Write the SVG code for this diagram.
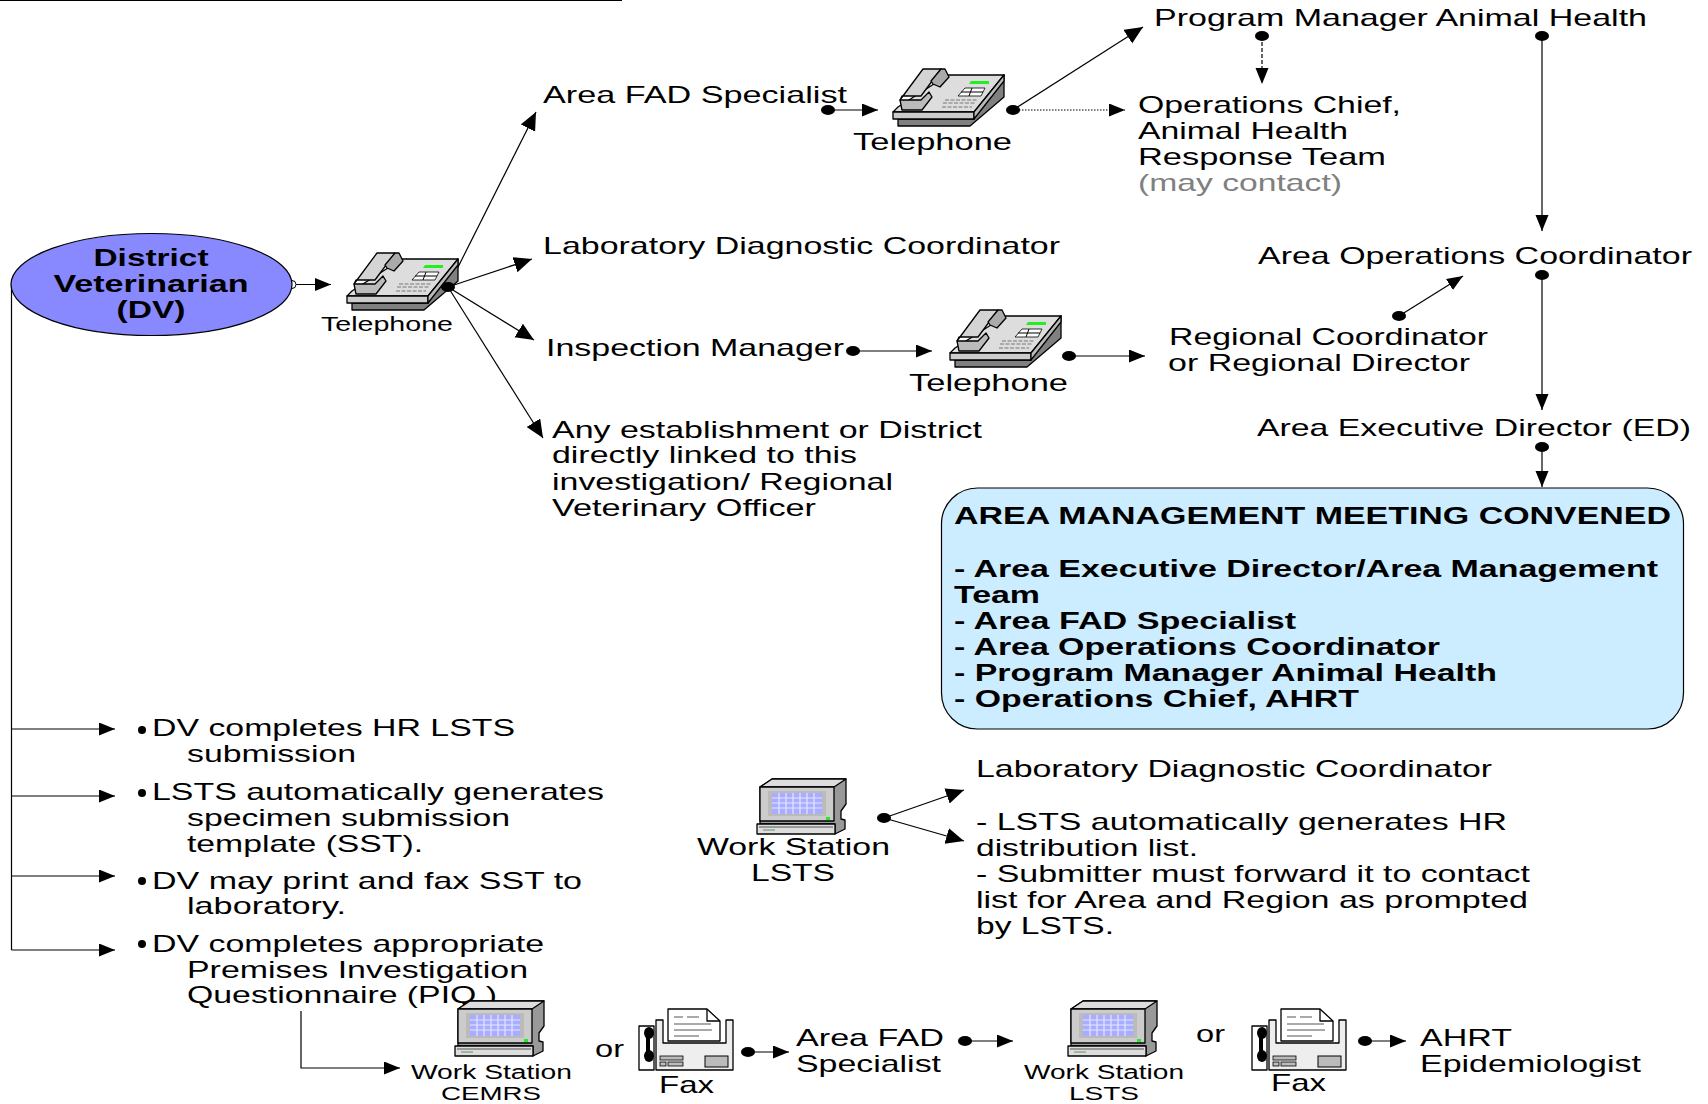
<svg xmlns="http://www.w3.org/2000/svg" width="1708" height="1104" viewBox="0 0 1708 1104">
<style>
text{font-family:"Liberation Sans",Arial,sans-serif;font-size:24px;fill:#000;transform:translateY(1px)}
.s{font-size:19.5px}
.t{font-size:18px}
.b{font-weight:bold}
.g{fill:#808080}
.c{fill:none;stroke:#000;stroke-width:1.2}
.a{fill:none;stroke:#000;stroke-width:1.2;marker-end:url(#arr)}
.al{fill:none;stroke:#000;stroke-width:1.2;marker-end:url(#arrl)}
.d{fill:#000}
.k{stroke:#000;stroke-width:1.3;stroke-linejoin:round}
</style>
<defs>
<marker id="arr" markerUnits="userSpaceOnUse" markerWidth="18" markerHeight="14" refX="16" refY="6.5" orient="auto"><path d="M0 0L16 6.5L0 13Z" fill="#000"/></marker>
<marker id="arrl" markerUnits="userSpaceOnUse" markerWidth="20" markerHeight="18" refX="18" refY="8" orient="auto"><path d="M0 0L18 8L0 16Z" fill="#000"/></marker>
<symbol id="phone" viewBox="0 0 112 58" width="112" height="58" overflow="visible">
<path class="k" d="M5 50V57H77L111 28V6L81 44V50Z" fill="#808080"/>
<path class="k" d="M5 38L55 6H111L81 43H0Z" fill="#ddd"/>
<path class="k" d="M0 43H81V50H0Z" fill="#ccc"/>
<path class="k" d="M81 50L111 12V6L81 43Z" fill="#bbb"/>
<path class="k" d="M7 31L30 0H48L28 27H9Z" fill="#d4d4d4"/>
<path class="k" d="M48 0H52L56 8L47 18L40 15L38 12Z" fill="#aaa"/>
<path class="k" d="M7 31H28L36 23L39 28L29 41H9Z" fill="#bbb"/>
<path d="M78 12H96V15H76Z" fill="#22ee22"/>
<path d="M72 19H92L88 27H65Z" fill="#fff" stroke="#000" stroke-width=".8"/>
<path d="M68 23H90M79 19L76 27" stroke="#000" stroke-width="1"/>
<path d="M52 31H84M50 34H82M49 38H79" stroke="#999" stroke-width="1.6" stroke-dasharray="4 1.5"/>
</symbol>
<symbol id="ws" viewBox="0 0 89 55" width="89" height="55" overflow="visible">
<path class="k" d="M3 8L15 0H89V25L84 32V40L88 41V50L78 55V45H3Z" fill="#999"/>
<path class="k" d="M3 8L15 0H89L77 8Z" fill="#ddd"/>
<path class="k" d="M3 8H77V42H3Z" fill="#ccc"/>
<path d="M11 12H69V37H11Z" fill="#bbb"/>
<path d="M15 14H65V35H15Z" fill="#a9adff"/>
<path d="M15 19H65M15 24H65M15 29H65M22 14V35M29 14V35M36 14V35M43 14V35M50 14V35M57 14V35" stroke="#e4e6ff" stroke-width="1.2"/>
<rect x="69" y="38" width="4" height="3" fill="#22ee22"/>
<path class="k" d="M0 45H78V55H0Z" fill="#ddd"/>
<path d="M2 48H76" stroke="#555" stroke-width="1"/>
<path d="M6 51H18" stroke="#8a8" stroke-width="1.5"/>
</symbol>
<symbol id="fax" viewBox="0 0 94 61" width="94" height="61" overflow="visible">
<rect class="k" x="0" y="17" width="15" height="44" fill="#fff" stroke-width="1.5"/>
<path d="M9 24V47" stroke="#000" stroke-width="4"/>
<ellipse cx="10" cy="24" rx="5" ry="6" class="d"/>
<ellipse cx="10" cy="47" rx="5" ry="6" class="d"/>
<path class="k" d="M17 11H24V34H87V11H94V61H17Z" fill="#eee" stroke-width="1.5"/>
<path class="k" d="M29 0H68L81 12V32H29Z" fill="#fff"/>
<path class="k" d="M68 0V12H81" fill="none"/>
<path d="M35 8H44M48 8H60M35 15H72M35 21H73M35 27H60" stroke="#555" stroke-width="1" fill="none"/>
<rect x="66" y="47" width="23" height="11" fill="#bbb" stroke="#000" stroke-width="1"/>
<rect x="21" y="47" width="23" height="4" fill="#bbb" stroke="#000" stroke-width=".8"/>
<rect x="21" y="53" width="6" height="4" fill="#bbb" stroke="#000" stroke-width=".8"/>
<rect x="29" y="53" width="15" height="4" fill="#bbb" stroke="#000" stroke-width=".8"/>
</symbol>
</defs>
<rect width="1708" height="1104" fill="#fff"/>
<path d="M0 .5H622" stroke="#000" stroke-width="1.2"/>

<g id="connectors">
<path class="c" d="M11.5 284V950"/>
<path class="a" d="M11.5 729H115"/>
<path class="a" d="M11.5 796H115"/>
<path class="a" d="M11.5 876H115"/>
<path class="a" d="M11.5 950H115"/>
<path class="a" d="M301 1011V1068H400"/>
<path class="a" d="M296 284.500H331"/>
<path class="al" d="M448 287L536 112"/>
<path class="al" d="M448 287L532 259"/>
<path class="al" d="M448 287L534 340"/>
<path class="al" d="M448 287L543 438"/>
<path class="a" d="M828 110H878"/>
<path class="al" d="M1013 110L1143 27"/>
<path class="a" d="M1013 110H1125" stroke-dasharray="1.5 1.5"/>
<path class="a" d="M1262 36V84" stroke-dasharray="4 2"/>
<path class="a" d="M1542 36V231"/>
<path class="a" d="M1542 275V410"/>
<path class="a" d="M1399 316L1463 276"/>
<path class="a" d="M1542 447V487"/>
<path class="a" d="M853 351H932"/>
<path class="a" d="M1069 356H1145"/>
<path class="al" d="M884 818L964 790"/>
<path class="al" d="M884 818L964 841"/>
<path class="a" d="M748 1052H789"/>
<path class="a" d="M965 1041H1013"/>
<path class="a" d="M1365 1041H1406"/>
<circle cx="292" cy="284.500" r="4" fill="#fff" stroke="#000"/>
<g class="d">
<ellipse cx="828" cy="110" rx="7" ry="5"/><ellipse cx="1013" cy="110" rx="7" ry="5"/><ellipse cx="1262" cy="36" rx="7" ry="5"/><ellipse cx="1542" cy="36" rx="7" ry="5"/><ellipse cx="1542" cy="275" rx="7" ry="5"/><ellipse cx="1399" cy="316" rx="7" ry="5"/><ellipse cx="1542" cy="447" rx="7" ry="5"/><ellipse cx="853" cy="351" rx="7" ry="5"/><ellipse cx="1069" cy="356" rx="7" ry="5"/><ellipse cx="884" cy="818" rx="7" ry="5"/><ellipse cx="748" cy="1052" rx="7" ry="5"/><ellipse cx="965" cy="1041" rx="7" ry="5"/><ellipse cx="1365" cy="1041" rx="7" ry="5"/>
<circle cx="142" cy="730" r="4"/><circle cx="142" cy="793" r="4"/><circle cx="142" cy="881" r="4"/><circle cx="142" cy="944" r="4"/>
</g>
</g>

<g id="dv">
<ellipse cx="151.5" cy="284.500" rx="140.5" ry="51" fill="#8888ff" stroke="#000" stroke-width="1.2"/>
<text class="b" x="151" y="265" text-anchor="middle" textLength="115" lengthAdjust="spacingAndGlyphs">District</text>
<text class="b" x="151" y="291" text-anchor="middle" textLength="195" lengthAdjust="spacingAndGlyphs">Veterinarian</text>
<text class="b" x="151" y="317" text-anchor="middle" textLength="69" lengthAdjust="spacingAndGlyphs">(DV)</text>
</g>

<g id="phone-1"><use href="#phone" x="347" y="253"/><ellipse cx="448" cy="287" rx="7" ry="5" class="d"/>
<text class="s" x="321" y="330" textLength="132" lengthAdjust="spacingAndGlyphs">Telephone</text></g>
<g id="phone-2"><use href="#phone" x="893" y="69"/>
<text x="853" y="149" textLength="159" lengthAdjust="spacingAndGlyphs">Telephone</text></g>
<g id="phone-3"><use href="#phone" x="950" y="310"/>
<text x="909" y="390" textLength="159" lengthAdjust="spacingAndGlyphs">Telephone</text></g>

<g id="program-manager"><text x="1154" y="25" textLength="493" lengthAdjust="spacingAndGlyphs">Program Manager Animal Health</text></g>
<g id="area-fad"><text x="543" y="102" textLength="304" lengthAdjust="spacingAndGlyphs">Area FAD Specialist</text></g>
<g id="ops-chief">
<text x="1138" y="112" textLength="263" lengthAdjust="spacingAndGlyphs">Operations Chief,</text>
<text x="1138" y="138" textLength="210" lengthAdjust="spacingAndGlyphs">Animal Health</text>
<text x="1138" y="164" textLength="248" lengthAdjust="spacingAndGlyphs">Response Team</text>
<text class="g" x="1138" y="190" textLength="204" lengthAdjust="spacingAndGlyphs">(may contact)</text>
</g>
<g id="lab-coord"><text x="543" y="253" textLength="517" lengthAdjust="spacingAndGlyphs">Laboratory Diagnostic Coordinator</text></g>
<g id="area-ops"><text x="1258" y="263" textLength="434" lengthAdjust="spacingAndGlyphs">Area Operations Coordinator</text></g>
<g id="regional">
<text x="1169" y="344" textLength="319" lengthAdjust="spacingAndGlyphs">Regional Coordinator</text>
<text x="1168" y="370" textLength="302" lengthAdjust="spacingAndGlyphs">or Regional Director</text>
</g>
<g id="inspection"><text x="546" y="355" textLength="298" lengthAdjust="spacingAndGlyphs">Inspection Manager</text></g>
<g id="establishment">
<text x="552" y="437" textLength="430" lengthAdjust="spacingAndGlyphs">Any establishment or District</text>
<text x="552" y="462" textLength="305" lengthAdjust="spacingAndGlyphs">directly linked to this</text>
<text x="552" y="489" textLength="341" lengthAdjust="spacingAndGlyphs">investigation/ Regional</text>
<text x="552" y="515" textLength="264" lengthAdjust="spacingAndGlyphs">Veterinary Officer</text>
</g>
<g id="area-ed"><text x="1257" y="435" textLength="434" lengthAdjust="spacingAndGlyphs">Area Executive Director (ED)</text></g>

<g id="meeting">
<rect x="941.5" y="488" width="742" height="241" rx="36" ry="36" fill="#ccecff" stroke="#000" stroke-width="1.2"/>
<text class="b" x="954" y="523" textLength="717" lengthAdjust="spacingAndGlyphs">AREA MANAGEMENT MEETING CONVENED</text>
<text class="b" x="954" y="576" textLength="704" lengthAdjust="spacingAndGlyphs">- Area Executive Director/Area Management</text>
<text class="b" x="954" y="602" textLength="86" lengthAdjust="spacingAndGlyphs">Team</text>
<text class="b" x="954" y="628" textLength="342" lengthAdjust="spacingAndGlyphs">- Area FAD Specialist</text>
<text class="b" x="954" y="654" textLength="486" lengthAdjust="spacingAndGlyphs">- Area Operations Coordinator</text>
<text class="b" x="954" y="680" textLength="543" lengthAdjust="spacingAndGlyphs">- Program Manager Animal Health</text>
<text class="b" x="954" y="706" textLength="405" lengthAdjust="spacingAndGlyphs">- Operations Chief, AHRT</text>
</g>

<g id="list">
<text x="152" y="735" textLength="363" lengthAdjust="spacingAndGlyphs">DV completes HR LSTS</text>
<text x="187" y="761" textLength="169" lengthAdjust="spacingAndGlyphs">submission</text>
<text x="152" y="799" textLength="452" lengthAdjust="spacingAndGlyphs">LSTS automatically generates</text>
<text x="187" y="825" textLength="323" lengthAdjust="spacingAndGlyphs">specimen submission</text>
<text x="187" y="851" textLength="236" lengthAdjust="spacingAndGlyphs">template (SST).</text>
<text x="152" y="888" textLength="430" lengthAdjust="spacingAndGlyphs">DV may print and fax SST to</text>
<text x="187" y="913" textLength="159" lengthAdjust="spacingAndGlyphs">laboratory.</text>
<text x="152" y="951" textLength="392" lengthAdjust="spacingAndGlyphs">DV completes appropriate</text>
<text x="187" y="977" textLength="341" lengthAdjust="spacingAndGlyphs">Premises Investigation</text>
<text x="187" y="1002" textLength="310" lengthAdjust="spacingAndGlyphs">Questionnaire (PIQ )</text>
</g>

<g id="ws-lsts-mid"><use href="#ws" x="757" y="779"/>
<text x="697" y="854" textLength="193" lengthAdjust="spacingAndGlyphs">Work Station</text>
<text x="751" y="880" textLength="84" lengthAdjust="spacingAndGlyphs">LSTS</text>
</g>
<g id="lab-notes">
<text x="976" y="776" textLength="516" lengthAdjust="spacingAndGlyphs">Laboratory Diagnostic Coordinator</text>
<text x="976" y="829" textLength="531" lengthAdjust="spacingAndGlyphs">- LSTS automatically generates HR</text>
<text x="976" y="855" textLength="222" lengthAdjust="spacingAndGlyphs">distribution list.</text>
<text x="976" y="881" textLength="554" lengthAdjust="spacingAndGlyphs">- Submitter must forward it to contact</text>
<text x="976" y="907" textLength="552" lengthAdjust="spacingAndGlyphs">list for Area and Region as prompted</text>
<text x="976" y="933" textLength="138" lengthAdjust="spacingAndGlyphs">by LSTS.</text>
</g>

<g id="ws-cemrs"><use href="#ws" x="455" y="1001"/>
<text class="s" x="411" y="1078" textLength="161" lengthAdjust="spacingAndGlyphs">Work Station</text>
<text class="t" x="441" y="1099" textLength="100" lengthAdjust="spacingAndGlyphs">CEMRS</text>
</g>
<g id="or-1"><text x="595" y="1056" textLength="29" lengthAdjust="spacingAndGlyphs">or</text></g>
<g id="fax-1"><use href="#fax" x="639" y="1009"/>
<text x="659" y="1092" textLength="55" lengthAdjust="spacingAndGlyphs">Fax</text></g>
<g id="area-fad-2">
<text x="796" y="1045" textLength="148" lengthAdjust="spacingAndGlyphs">Area FAD</text>
<text x="796" y="1071" textLength="145" lengthAdjust="spacingAndGlyphs">Specialist</text>
</g>
<g id="ws-lsts-bottom"><use href="#ws" x="1068" y="1001"/>
<text class="s" x="1024" y="1078" textLength="160" lengthAdjust="spacingAndGlyphs">Work Station</text>
<text class="t" x="1069" y="1099" textLength="70" lengthAdjust="spacingAndGlyphs">LSTS</text>
</g>
<g id="or-2"><text x="1196" y="1041" textLength="29" lengthAdjust="spacingAndGlyphs">or</text></g>
<g id="fax-2"><use href="#fax" x="1252" y="1009"/>
<text x="1271" y="1090" textLength="55" lengthAdjust="spacingAndGlyphs">Fax</text></g>
<g id="ahrt">
<text x="1420" y="1045" textLength="92" lengthAdjust="spacingAndGlyphs">AHRT</text>
<text x="1420" y="1071" textLength="221" lengthAdjust="spacingAndGlyphs">Epidemiologist</text>
</g>
</svg>
